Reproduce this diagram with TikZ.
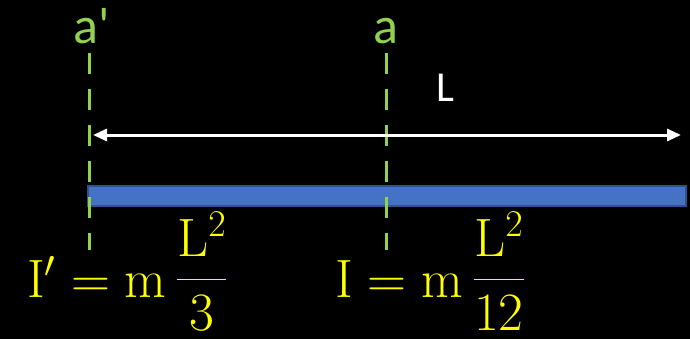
\RequirePackage{fix-cm}
\documentclass[tikz,border=0pt]{standalone}
\usepackage{amsmath}
\usepackage[no-math]{fontspec}
\setmainfont{Carlito}
\newfontfamily\labfont{Carlito}
\usepackage{tikz}
\usetikzlibrary{arrows.meta,positioning}
\definecolor{axisgreen}{RGB}{146,208,80}
\definecolor{rodblue}{RGB}{68,114,196}
\definecolor{rodedge}{RGB}{47,82,143}
\definecolor{formyellow}{RGB}{255,255,0}
\newcommand{\upfrac}[2]{\raisebox{3pt}{$\displaystyle\frac{#1}{#2}$}}

\begin{document}
\begin{tikzpicture}[x=0.75pt,y=-0.75pt,
  axisline/.style={axisgreen, line width=2.25pt, dash pattern=on 15.75pt off 11.25pt},
  axislabel/.style={text=axisgreen, font=\labfont\fontsize{39}{40}\selectfont, inner sep=0pt, anchor=base},
  formula/.style={text=formyellow, font=\fontsize{40.5}{48}\selectfont, inner sep=0pt, anchor=base west}]
% Background
\fill[black] (0,0) rectangle (690,339);
\useasboundingbox (0,0) rectangle (690,339);
% Rod
\draw[fill=rodblue, draw=rodedge, line width=1.2pt] (88,186) rectangle (686,206);
% Axes (dashed)
\coordinate (apTop) at (89,53);
\coordinate (apBot) at (89,250);
\coordinate (aTop) at (386,53);
\coordinate (aBot) at (386,250);
\draw[axisline] (apTop) -- (apBot);
\draw[axisline] (aTop) -- (aBot);
\node[axislabel] (labAp) at (92,43) {a'};
\node[axislabel] (labA) at (386,43) {a};
% Length arrow
\coordinate (lenLeft) at (93,135);
\coordinate (lenRight) at (681,135);
\draw[white, line width=2.25pt, {Triangle[length=10.5pt,width=9pt]}-{Triangle[length=10.5pt,width=9pt]}] (lenLeft) -- (lenRight);
\node[text=white, font=\labfont\fontsize{32}{34}\selectfont, inner sep=0pt, anchor=base] (lenL) at (445,101) {L};
% Moments of inertia
\node[formula] (formAp) at (27,297) {$\mathrm{I}' = \mathrm{m}\,\upfrac{\mathrm{L}^2}{3}$};
\node[formula] (formA) at (335,297) {$\mathrm{I} = \mathrm{m}\,\upfrac{\mathrm{L}^2}{12}$};
\end{tikzpicture}
\end{document}
